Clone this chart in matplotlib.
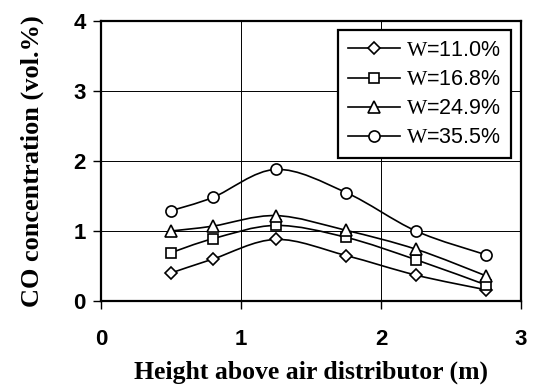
import matplotlib
matplotlib.use("Agg")
import matplotlib.pyplot as plt
import numpy as np
from matplotlib.path import Path
from matplotlib.patches import PathPatch
from matplotlib.lines import Line2D

plt.rcParams['mathtext.fontset'] = 'custom'
plt.rcParams['mathtext.rm'] = 'Liberation Serif'

# data
height = [0.5, 0.8, 1.25, 1.75, 2.25, 2.75]
co_110 = [0.40, 0.60, 0.88, 0.65, 0.37, 0.16]
co_168 = [0.69, 0.89, 1.08, 0.91, 0.59, 0.23]
co_249 = [1.00, 1.07, 1.22, 1.01, 0.74, 0.36]
co_355 = [1.29, 1.48, 1.88, 1.55, 1.00, 0.66]
labels = ["11.0%", "16.8%", "24.9%", "35.5%"]
markers = ["D", "s", "^", "o"]
msizes = [6.5, 7.5, 8, 8]

series = [co_110, co_168, co_249, co_355]


def smooth_path(x, y):
    # Excel-style smoothed line: cubic bezier through the points
    pts = np.column_stack([x, y]).astype(float)
    n = len(pts)
    verts = [pts[0]]
    codes = [Path.MOVETO]
    for i in range(n - 1):
        p0 = pts[i - 1] if i > 0 else pts[i]
        p1 = pts[i]
        p2 = pts[i + 1]
        p3 = pts[i + 2] if i + 2 < n else pts[i + 1]
        c1 = p1 + (p2 - p0) / 6.0
        c2 = p2 - (p3 - p1) / 6.0
        verts += [c1, c2, p2]
        codes += [Path.CURVE4] * 3
    return Path(verts, codes)


fig = plt.figure(figsize=(5.35, 3.87), dpi=100)
ax = fig.add_axes([0.1888, 0.2222, 0.785, 0.7235])

handles = []
for ys, lab, m, ms in zip(series, labels, markers, msizes):
    ax.add_patch(PathPatch(smooth_path(height, ys), fill=False, edgecolor='black', lw=1.2, zorder=3))
    ax.plot(height, ys, ls='none', marker=m, ms=ms, mfc='white', mec='black', mew=1.2, zorder=4)
    handles.append(Line2D([], [], color='black', lw=1.2, marker=m, ms=ms, mfc='white', mec='black',
                          mew=1.2, label=r"$\mathrm{W}$=" + lab))

ax.set_xlim(0, 3)
ax.set_ylim(0, 4)
ax.set_xticks([0, 1, 2, 3])
ax.set_yticks([0, 1, 2, 3, 4])
ax.grid(True, color='black', lw=0.7)
ax.set_axisbelow(True)
for s in ax.spines.values():
    s.set_linewidth(1.6)
ax.tick_params(direction='out', length=6, width=1, labelsize=16,
               labelfontfamily='Liberation Sans')
ax.tick_params(axis='y', pad=5)
ax.tick_params(axis='x', pad=14)
for t in ax.get_xticklabels() + ax.get_yticklabels():
    t.set_fontweight('bold')

ax.set_xlabel("Height above air distributor (m)", fontfamily='Liberation Serif', fontweight='bold',
              fontsize=18.5, labelpad=8)
ax.set_ylabel("CO concentration (vol.%)", fontfamily='Liberation Serif', fontweight='bold',
              fontsize=19, labelpad=21)

leg = ax.legend(handles=handles, loc='upper right', bbox_to_anchor=(0.976, 0.967), numpoints=1,
                prop={'family': 'Liberation Sans', 'size': 15.5}, frameon=True, fancybox=False,
                edgecolor='black', framealpha=1, handlelength=2.4, handletextpad=0.3,
                labelspacing=0.38, borderpad=0.45, borderaxespad=0)
leg.get_frame().set_linewidth(1.6)

fig.savefig("out.png", dpi=100)
